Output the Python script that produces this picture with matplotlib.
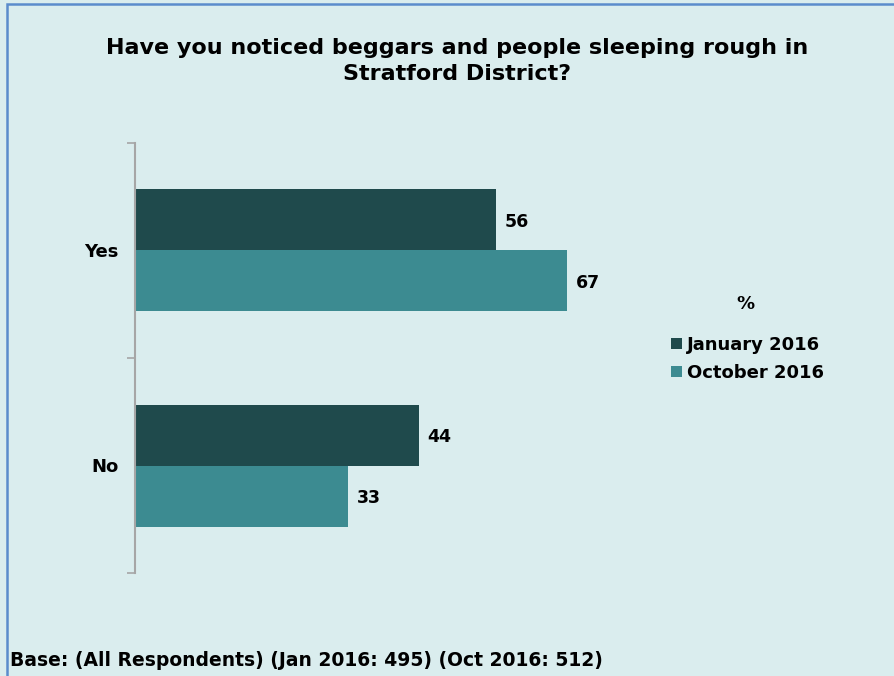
import matplotlib.pyplot as plt
from matplotlib.patches import Rectangle, Patch

categories = ["Yes", "No"]
series_names = ["January 2016", "October 2016"]
jan_2016 = [56, 44]
oct_2016 = [67, 33]
colors = ["#1f4a4c", "#3c8b91"]
bg = "#daedee"

plt.rcParams['font.family'] = ['DejaVu Sans']

fig = plt.figure(figsize=(8.95, 6.76), dpi=100, facecolor=bg)
W, H = 895, 676

# frame around the chart (open to the right and bottom edges)
fig.patches.append(Rectangle((7 / W, -0.02), 1.0, (H - 4) / H + 0.02, transform=fig.transFigure,
                             fill=False, edgecolor="#5b8ccc", linewidth=1.8))

ax = fig.add_axes([135 / W, (H - 573) / H, 645 / W, 430 / H])
ax.set_facecolor(bg)

bar_h = 61 / 215
pos = [0.5, -0.5]
ys_jan = [p + bar_h / 2 for p in pos]
ys_oct = [p - bar_h / 2 for p in pos]
ax.barh(ys_jan, jan_2016, height=bar_h, color=colors[0], label=series_names[0])
ax.barh(ys_oct, oct_2016, height=bar_h, color=colors[1], label=series_names[1])

for ys, vals in ((ys_jan, jan_2016), (ys_oct, oct_2016)):
    for y, v in zip(ys, vals):
        ax.text(v + 1.35, y - 0.01, f"{v}", va="center", ha="left",
                fontsize=12.5, fontweight="bold")

ax.set_xlim(0, 100)
ax.set_ylim(-1, 1)
ax.set_yticks([-1, 0, 1])
ax.set_yticklabels([])
ax.set_yticks(pos, minor=True)
ax.set_yticklabels(categories, minor=True, fontsize=13, fontweight="bold")
ax.tick_params(axis="y", which="minor", length=0, pad=12)
ax.tick_params(axis="y", which="major", length=6, color="#a6a6a6", width=1.2, direction="out")
ax.set_xticks([])
for s in ["top", "right", "bottom"]:
    ax.spines[s].set_visible(False)
ax.spines["left"].set_color("#a6a6a6")
ax.spines["left"].set_linewidth(1.5)

fig.text(457 / W, (H - 61) / H, "Have you noticed beggars and people sleeping rough in\nStratford District?",
         ha="center", va="center", fontsize=16, fontweight="bold", linespacing=1.35)

fig.text(745 / W, (H - 304) / H, "%", ha="center", va="center", fontsize=13, fontweight="bold")
handles = [Patch(facecolor=c, label=n) for c, n in zip(colors, series_names)]
fig.legend(handles=handles, loc="center left", bbox_to_anchor=(671 / W, (H - 359) / H),
           frameon=False, prop={"weight": "bold", "size": 13},
           handlelength=0.6, handleheight=0.6, handletextpad=0.3, labelspacing=0.55,
           borderpad=0, borderaxespad=0)

fig.text(10 / W, (H - 661) / H, "Base: (All Respondents) (Jan 2016: 495) (Oct 2016: 512)",
         ha="left", va="center", fontsize=13.5, fontweight="bold")

fig.savefig("out.png", dpi=100, facecolor=bg)
